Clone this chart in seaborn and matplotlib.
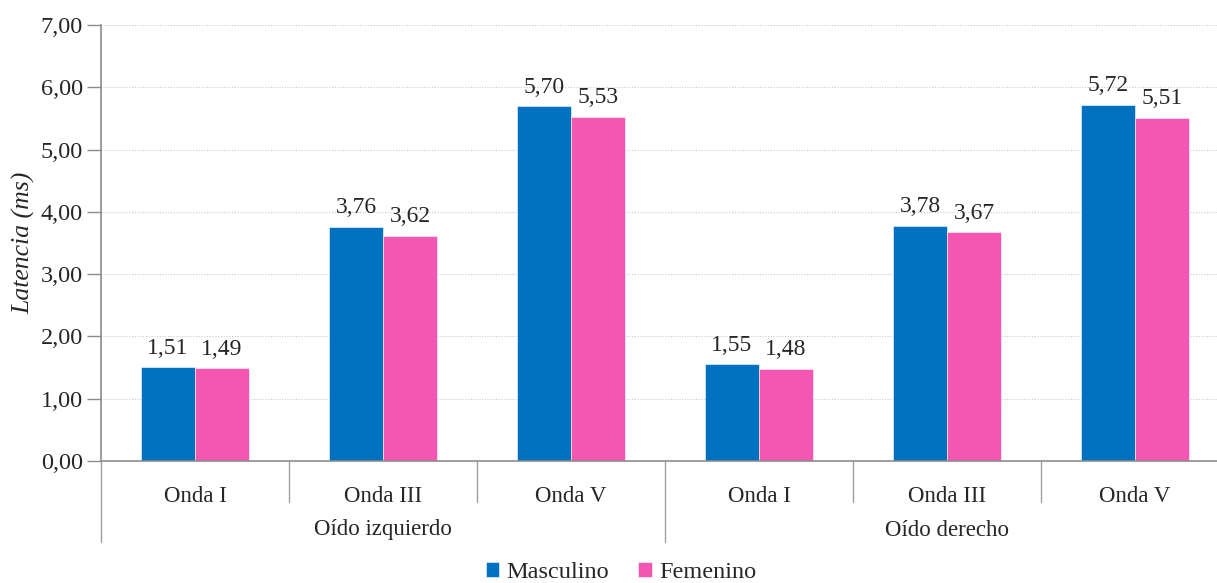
import matplotlib
matplotlib.use("Agg")
import matplotlib.pyplot as plt
from matplotlib.ticker import FuncFormatter
import seaborn as sns
import pandas as pd

# data
grupos = ["Oído izquierdo", "Oído derecho"]
ondas = ["Onda I", "Onda III", "Onda V"]
sexos = ["Masculino", "Femenino"]
masculino = [1.51, 3.76, 5.70, 1.55, 3.78, 5.72]
femenino = [1.49, 3.62, 5.53, 1.48, 3.67, 5.51]
colores = ["#0070C0", "#F556B1"]

claves = [g + " | " + o for g in grupos for o in ondas]
df = pd.DataFrame({
    "clave": claves * 2,
    "sexo": [sexos[0]] * 6 + [sexos[1]] * 6,
    "latencia": masculino + femenino,
})

sns.set_style("white")
plt.rcParams["font.family"] = ["Liberation Serif", "DejaVu Serif"]

fig = plt.figure(figsize=(12.17, 5.83), dpi=100)
ax = fig.add_axes([101 / 1217, 1 - 461 / 583, 1128 / 1217, 436 / 583])

sns.barplot(data=df, x="clave", y="latencia", hue="sexo", order=claves,
            hue_order=sexos, palette=colores, width=0.574, saturation=1,
            edgecolor="white", linewidth=0.4, ax=ax)

coma = lambda v: f"{v:.2f}".replace(".", ",")
for cont in ax.containers:
    ax.bar_label(cont, fmt=coma, padding=6, fontsize=17)

ax.set_ylim(0, 7)
ax.set_xlim(-0.5, 5.5)
ax.set_yticks(range(0, 8))
ax.yaxis.set_major_formatter(FuncFormatter(lambda v, p: coma(v)))
ax.tick_params(axis="y", labelsize=17.5, length=10, color="#8c8c8c", width=1,
               direction="out", left=True, pad=3)
ax.yaxis.grid(True, linestyle=(0, (1, 1.5)), color="#c8c8c8", linewidth=0.8)
ax.set_axisbelow(True)
ax.set_ylabel("Latencia (ms)", fontsize=18.5, style="italic", labelpad=4)
ax.set_xlabel("")

for s in ["top", "right"]:
    ax.spines[s].set_visible(False)
for s in ["left", "bottom"]:
    ax.spines[s].set_color("#8c8c8c")
    ax.spines[s].set_linewidth(1.2)

# multi-level category axis
ax.set_xticks(range(len(claves)))
ax.set_xticklabels(ondas * len(grupos), fontsize=16.5)
ax.tick_params(axis="x", length=0, pad=18)
trans = ax.get_xaxis_transform()
for i in range(len(claves) + 1):
    largo = i % len(ondas) == 0
    ax.plot([i - 0.5, i - 0.5], [0, -(81 if largo else 41) / 436], transform=trans,
            color="#a0a0a0", linewidth=1, clip_on=False)
for j, g in enumerate(grupos):
    cx = j * len(ondas) + (len(ondas) - 1) / 2
    ax.text(cx, -69 / 436, g, transform=trans, ha="center", va="center", fontsize=16.5)

h, l = ax.get_legend_handles_labels()
ax.get_legend().remove()
fig.legend(h, l, loc="lower center", bbox_to_anchor=(621 / 1217, -0.038), ncol=2,
           frameon=False, fontsize=17.5, handlelength=0.55, handleheight=0.55,
           handletextpad=0.3, columnspacing=1.2)

fig.savefig("out.png", dpi=100)
